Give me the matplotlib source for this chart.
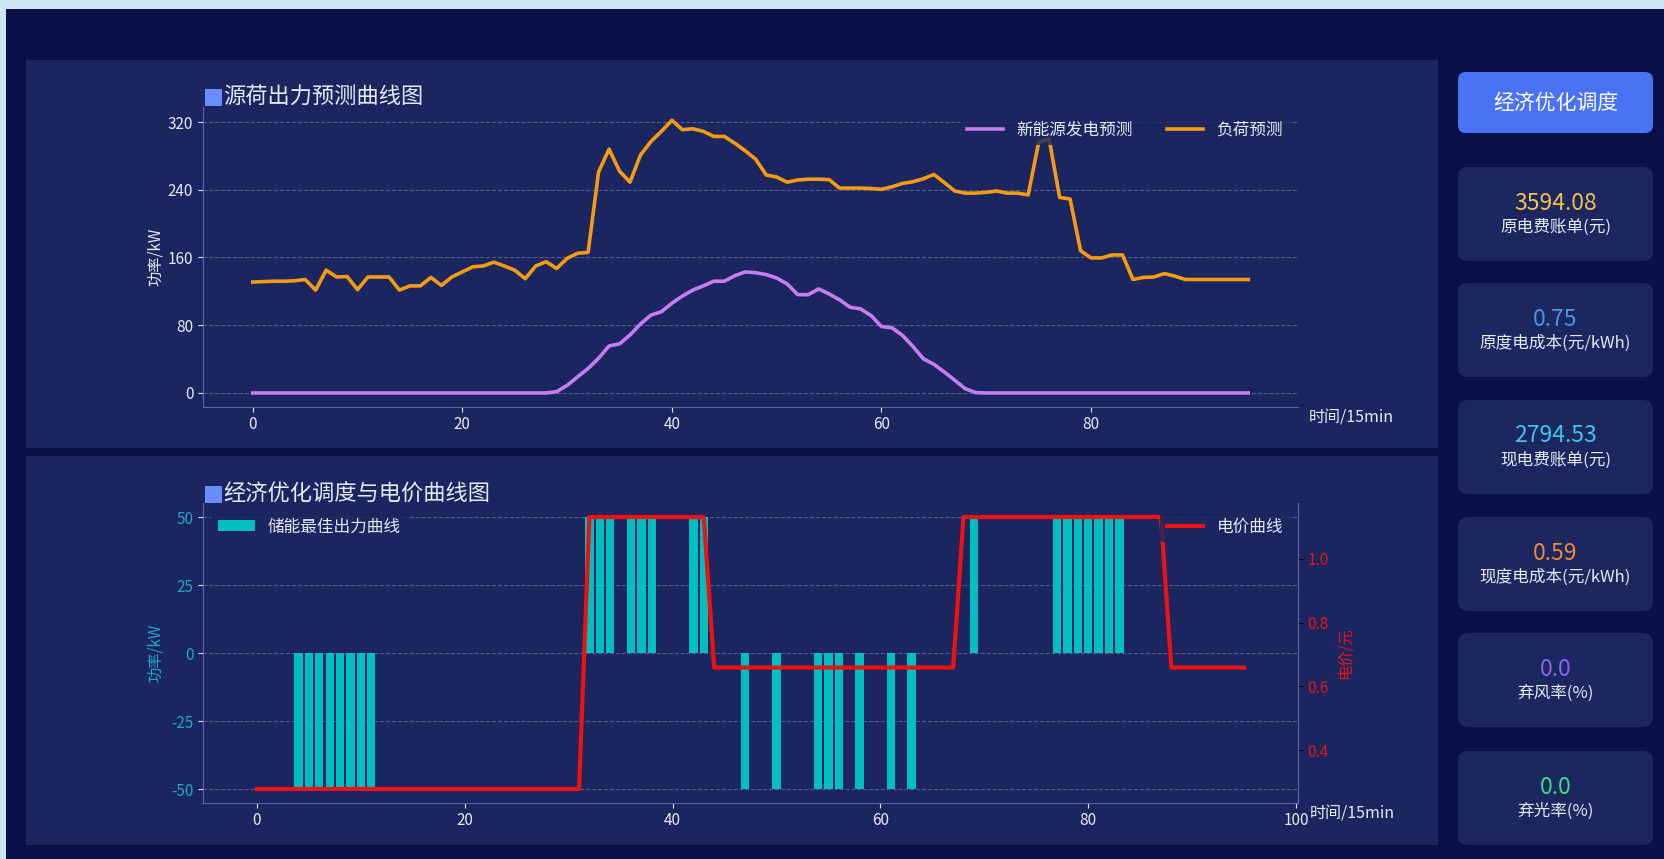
import numpy as np
import matplotlib
matplotlib.use("Agg")
import matplotlib.pyplot as plt
from matplotlib.patches import Rectangle, FancyBboxPatch

plt.rcParams["font.family"] = ["Noto Sans CJK SC", "DejaVu Sans"]
plt.rcParams["axes.unicode_minus"] = False

# 96 个时段 (15min)
t = np.arange(96)

pv_forecast = [0] * 29 + [
    1.5, 9, 19, 29, 41, 55.5, 58, 68.5, 81.5, 92, 96,
    106, 114.5, 121.5, 126.5, 132, 132, 138.5, 143, 142, 139.8,
    135.8, 128.8, 116.2, 116, 122.9, 117, 110, 101.3, 99.3, 91.5,
    78.5, 77, 68, 55, 40.4, 33.8, 24.7, 15, 5, 0.4,
] + [0] * 26

load_forecast = [
    131, 131.5, 132, 132, 132.5, 134, 121.5, 145, 137, 137.5,
    122, 137, 137, 137, 121.5, 126.5, 126.5, 136.5, 127, 137,
    143, 149, 150, 154.5, 150, 145, 135, 150, 155, 147,
    159, 165, 166, 261, 288, 262, 249, 281, 297, 309,
    322, 311, 312, 309, 303, 303, 295, 286, 276, 257.5,
    255, 249, 251.5, 252.5, 252.5, 252, 242, 242, 242, 241.5,
    240.5, 243.5, 247.5, 249.5, 253, 258, 248.5, 238.5, 236, 236,
    237, 238.5, 236, 236, 234, 296, 300, 231, 229, 168,
    159.5, 159.5, 163, 163, 134, 136.5, 137, 141, 138, 134,
    134, 134, 134, 134, 134, 134,
]

# 分时电价 (元/kWh)
price_valley = 0.278
price_flat = 0.659
price_peak = 1.131
price = ([price_valley] * 32 + [price_peak] * 12 + [price_flat] * 24
         + [price_peak] * 20 + [price_flat] * 8)

# 储能出力 (正: 放电, 负: 充电)
charge_slots = [4, 5, 6, 7, 8, 9, 10, 11, 47, 50, 54, 55, 56, 58, 61, 63]
discharge_slots = [32, 33, 34, 36, 37, 38, 42, 43, 69, 77, 78, 79, 80, 81, 82, 83]
storage_power = [0.0] * 96
for i in charge_slots:
    storage_power[i] = -50.0
for i in discharge_slots:
    storage_power[i] = 50.0

card_values = ["3594.08", "0.75", "2794.53", "0.59", "0.0", "0.0"]
card_labels = ["原电费账单(元)", "原度电成本(元/kWh)", "现电费账单(元)",
               "现度电成本(元/kWh)", "弃风率(%)", "弃光率(%)"]
card_colors = ["#f2c14e", "#4b94e6", "#3fc6ea", "#f0873a", "#8a63f0", "#3ddc84"]

# 颜色
BG_OUTER = "#0a1048"
BG_PANEL = "#1b2660"
CARD = "#1c2760"
SPINE = "#5866b0"
GRID = "#6a7298"
TEXT = "#e6eaf6"
CYAN_LABEL = "#1ea6c6"
RED = "#ee1111"

W, H = 1664, 859
fig = plt.figure(figsize=(W / 100, H / 100), dpi=100)
fig.patch.set_facecolor("#cde6f4")
tr = fig.dpi_scale_trans


def px_rect(x0, y0, x1, y1, color, z=-5, rounding=0):
    # 以像素 (左上原点) 定位的矩形
    if rounding:
        patch = FancyBboxPatch((x0 / 100, (H - y1) / 100), (x1 - x0) / 100, (y1 - y0) / 100,
                               boxstyle="round,pad=0,rounding_size=%f" % (rounding / 100),
                               transform=tr, facecolor=color, edgecolor="none", zorder=z)
    else:
        patch = Rectangle((x0 / 100, (H - y1) / 100), (x1 - x0) / 100, (y1 - y0) / 100,
                          transform=tr, facecolor=color, edgecolor="none", zorder=z)
    fig.add_artist(patch)


def px_text(x, y, s, **kw):
    fig.text(x / 100, (H - y) / 100, s, transform=tr, **kw)


# 背景与面板
px_rect(6, 9, W, H, BG_OUTER, z=-10)
px_rect(26, 60, 1438, 448, BG_PANEL)
px_rect(26, 456, 1438, 845, BG_PANEL)

# 标题
for y_mid, title in [(97, "源荷出力预测曲线图"), (494, "经济优化调度与电价曲线图")]:
    px_rect(205, y_mid - 8.5, 222, y_mid + 8.5, "#6b8cff", z=2)
    px_text(223, y_mid, title, color=TEXT, fontsize=16, ha="left", va="center")

# ---- 源荷出力预测曲线 ----
ax1 = fig.add_axes([203 / W, 1 - 406.6 / H, 1095 / W, 299.9 / H])
ax1.set_facecolor(BG_PANEL)
ax1.plot(t, pv_forecast, color="#c77df0", lw=2.6, label="新能源发电预测")
ax1.plot(t, load_forecast, color="#f39c12", lw=2.6, label="负荷预测")
ax1.set_yticks([0, 80, 160, 240, 320])
ax1.set_xticks([0, 20, 40, 60, 80])
ax1.grid(axis="y", ls="--", color=GRID, lw=0.8, alpha=0.7)
ax1.set_axisbelow(True)
for side in ["top", "right"]:
    ax1.spines[side].set_visible(False)
for side in ["left", "bottom"]:
    ax1.spines[side].set_color(SPINE)
ax1.tick_params(colors=TEXT, labelsize=11)
ax1.set_ylabel("功率/kW", color=TEXT, fontsize=11)
ax1.yaxis.set_label_coords(-0.036, 0.5)
ax1.legend(loc="upper right", ncol=2, fontsize=12, facecolor=BG_PANEL, edgecolor="none",
           labelcolor=TEXT, handlelength=2.2)
px_text(1309, 418, "时间/15min", color=TEXT, fontsize=11.5, ha="left", va="center")

# ---- 经济优化调度与电价曲线 ----
ax2 = fig.add_axes([203 / W, 1 - 802.6 / H, 1095 / W, 299.2 / H])
ax2.set_facecolor(BG_PANEL)
ax2.bar(t, storage_power, width=0.8, color="c", label="储能最佳出力曲线")
ax2.set_yticks([-50, -25, 0, 25, 50])
ax2.set_xticks([0, 20, 40, 60, 80, 100])
ax2.grid(axis="y", ls="--", color=GRID, lw=0.8, alpha=0.7)
ax2.set_axisbelow(True)
ax2.spines["top"].set_visible(False)
for side in ["left", "bottom", "right"]:
    ax2.spines[side].set_color(SPINE)
ax2.tick_params(colors=TEXT, labelsize=11)
ax2.tick_params(axis="y", labelcolor=CYAN_LABEL)
ax2.set_ylabel("功率/kW", color=CYAN_LABEL, fontsize=11)
ax2.yaxis.set_label_coords(-0.036, 0.5)
ax2.legend(loc="upper left", fontsize=12, facecolor=BG_PANEL, edgecolor="none",
           labelcolor=TEXT, handlelength=2.2)

ax2r = ax2.twinx()
ax2r.plot(t, price, color=RED, lw=3, label="电价曲线")
ax2r.set_yticks([0.4, 0.6, 0.8, 1.0])
ax2r.spines["top"].set_visible(False)
ax2r.spines["left"].set_visible(False)
ax2r.spines["bottom"].set_visible(False)
ax2r.spines["right"].set_color(SPINE)
ax2r.tick_params(axis="y", labelcolor=RED, labelsize=11)
ax2r.set_ylabel("电价/元", color=RED, fontsize=11)
ax2r.yaxis.set_label_coords(1.035, 0.5)
ax2r.legend(loc="upper right", fontsize=12, facecolor=BG_PANEL, edgecolor="none",
            labelcolor=TEXT, handlelength=2.2)
px_text(1310, 814, "时间/15min", color=TEXT, fontsize=11.5, ha="left", va="center")

# ---- 右侧指标栏 ----
px_rect(1458, 72, 1653, 133, "#4a72f5", rounding=8)
px_text(1555.5, 102.5, "经济优化调度", color="white", fontsize=15, ha="center", va="center")

card_tops = [167, 283, 400, 517, 633, 751]
for top, val, lab, col in zip(card_tops, card_values, card_labels, card_colors):
    px_rect(1458, top, 1653, top + 94, CARD, rounding=10)
    px_text(1555.5, top + 36, val, color=col, fontsize=16.5, ha="center", va="center")
    px_text(1555.5, top + 60, lab, color=TEXT, fontsize=12, ha="center", va="center")

fig.savefig("out.png", dpi=100, facecolor=fig.get_facecolor())
